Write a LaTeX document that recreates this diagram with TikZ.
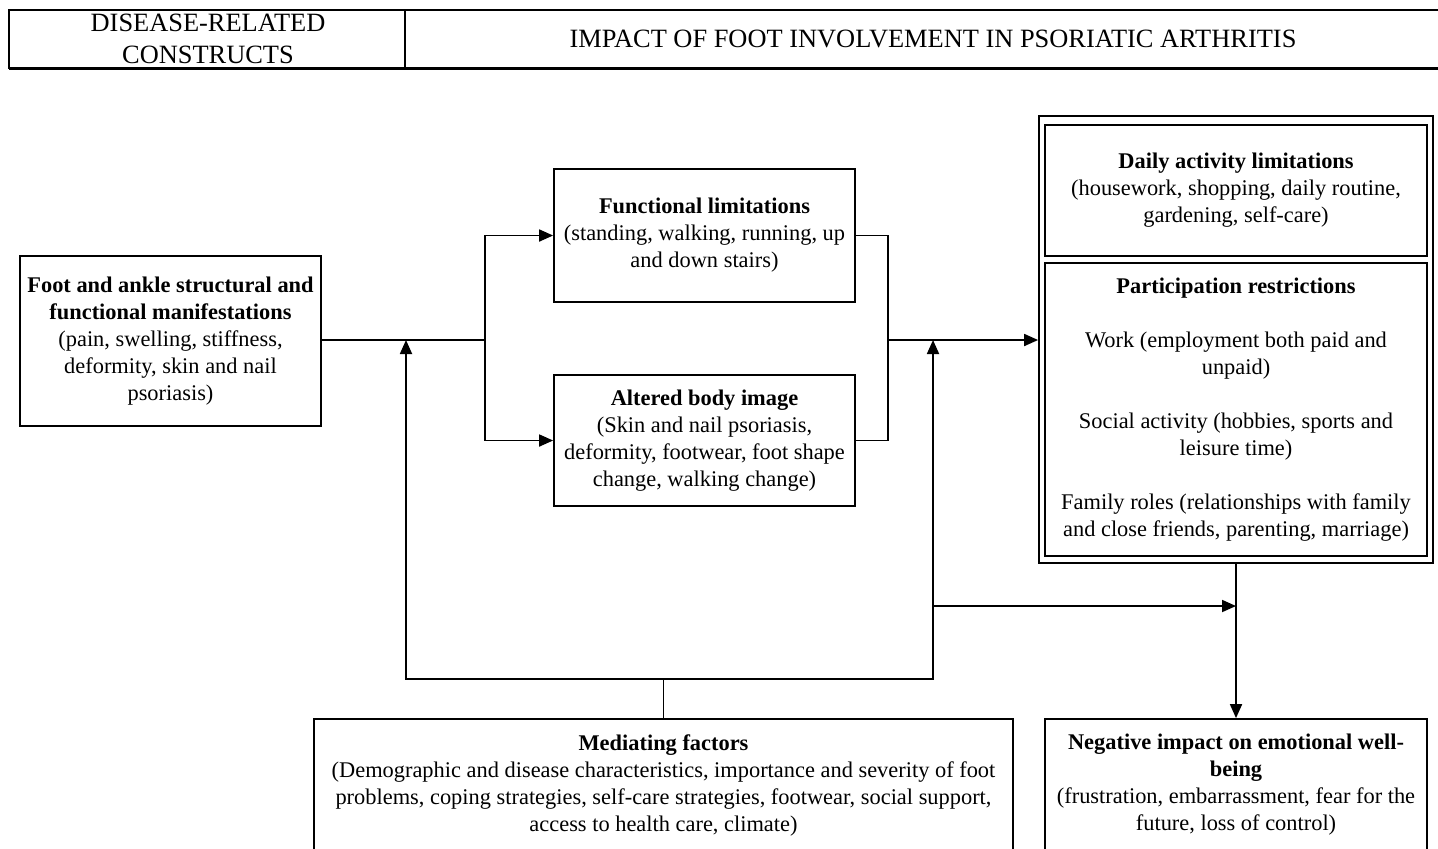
\documentclass[tikz,border=0pt]{standalone}
\usepackage{fontspec}
\setmainfont{Liberation Serif}
\usetikzlibrary{arrows.meta}
\begin{document}
\begin{tikzpicture}[x=0.5pt,y=-0.5pt,
  line width=0.9pt,
  every node/.style={font=\fontsize{11.2}{13.5}\selectfont, inner sep=0pt, align=center},
  headtext/.style={font=\fontsize{13.2}{16}\selectfont},
  box/.style={draw, line width=0.9pt},
  arr/.style={-{Triangle[length=7pt,width=6pt]}},
]
\clip (0,0) rectangle (1438,848);
\fill[white] (0,0) rectangle (1438,848);

% header band
\draw (1445,10) -- (9,10) -- (9,68) -- (1445,68);
\draw[line width=1.3pt] (9,68.5) -- (1445,68.5);
\draw (405,10) -- (405,68);
\node[headtext] (hleft) at (208,38.5) {DISEASE-RELATED\\CONSTRUCTS};
\node[headtext] (hright) at (933,39) {IMPACT OF FOOT INVOLVEMENT IN PSORIATIC ARTHRITIS};

% disease-related manifestations
\node[box, minimum width=150.5pt, minimum height=85pt] (foot) at (170.5,341)
  {\textbf{Foot and ankle structural and}\\\textbf{functional manifestations}\\(pain, swelling, stiffness,\\deformity, skin and nail\\psoriasis)};

% intermediate impacts
\node[box, minimum width=150.5pt, minimum height=66.5pt] (func) at (704.5,235.5)
  {\textbf{Functional limitations}\\(standing, walking, running, up\\and down stairs)};
\node[box, minimum width=150.5pt, minimum height=65.5pt] (body) at (704.5,440.5)
  {\textbf{Altered body image}\\(Skin and nail psoriasis,\\deformity, footwear, foot shape\\change, walking change)};

% activity and participation group
\node[box, minimum width=197pt, minimum height=223.5pt] (outer) at (1236,339.5) {};
\node[box, minimum width=191pt, minimum height=65.5pt] (daily) at (1236,190.5)
  {\textbf{Daily activity limitations}\\(housework, shopping, daily routine,\\gardening, self-care)};
\node[box, minimum width=191pt, minimum height=146.5pt] (part) at (1236,409.5)
  {\textbf{Participation restrictions}\\[13.5pt]Work (employment both paid and\\unpaid)\\[13.5pt]Social activity (hobbies, sports and\\leisure time)\\[13.5pt]Family roles (relationships with family\\and close friends, parenting, marriage)};

% bottom row
\node[box, minimum width=349.5pt, minimum height=66pt] (med) at (663.5,785)
  {\textbf{Mediating factors}\\(Demographic and disease characteristics, importance and severity of foot\\problems, coping strategies, self-care strategies, footwear, social support,\\access to health care, climate)};
\node[box, minimum width=191pt, minimum height=66pt] (neg) at (1236,785)
  {\textbf{Negative impact on emotional well-}\\\textbf{being}\\(frustration, embarrassment, fear for the\\future, loss of control)};

% junction points
\coordinate (split) at (485,340);
\coordinate (merge) at (888,340);
\coordinate (fb) at (406,340);
\coordinate (pb) at (933,340);
\coordinate (medjoin) at (med.north |- 0,679);
\coordinate (tap) at (933,606);
\coordinate (wellin) at (1236,606);

% connectors
\draw (foot.east |- split) -- (split);
\draw[arr] (split) |- (func.west);
\draw[arr] (split) |- (body.west);
\draw (func.east) -| (merge) |- (body.east);
\draw[arr] (merge) -- (merge -| outer.west);
\draw (med.north) -- (medjoin);
\draw[arr] (medjoin) -| (fb);
\draw[arr] (medjoin) -| (pb);
\draw[arr] (tap) -- (wellin);
\draw[arr] (outer.south) -- (neg.north);
\end{tikzpicture}
\end{document}
